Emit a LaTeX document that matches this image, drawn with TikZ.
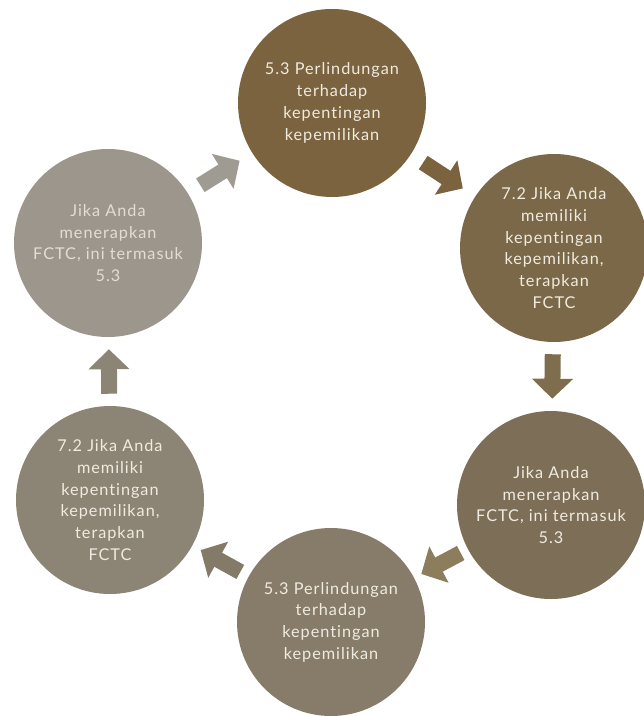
\documentclass[tikz,border=0pt]{standalone}
\usepackage{fontspec}
\setmainfont{Lato}[LetterSpace=6, Ligatures={NoCommon}]
\usetikzlibrary{arrows.meta}
\definecolor{stageA}{RGB}{122,99,62}
\definecolor{stageB}{RGB}{122,104,72}
\definecolor{stageC}{RGB}{125,111,87}
\definecolor{stageD}{RGB}{135,124,105}
\definecolor{stageE}{RGB}{140,132,117}
\definecolor{stageF}{RGB}{156,150,140}
\definecolor{flowA}{RGB}{160,155,146}
\definecolor{flowB}{RGB}{122,99,62}
\definecolor{flowC}{RGB}{126,110,78}
\definecolor{flowD}{RGB}{140,125,92}
\definecolor{flowE}{RGB}{132,122,104}
\definecolor{flowF}{RGB}{140,132,117}
\definecolor{cream}{RGB}{240,235,224}
\tikzset{
    stage/.style={shape=circle, minimum size=141pt, inner sep=0pt, align=center,
        text=cream, font=\fontsize{12.2}{16.3}\selectfont},
    flow/.style={line width=12pt, -{Triangle[length=15pt, width=30pt]},
        shorten <=#1, shorten >=#1}
}

\begin{document}
\begin{tikzpicture}[x=0.75pt, y=-0.75pt]
    \useasboundingbox (0,0) rectangle (643,716);

    \node[stage, fill=stageA] (c1) at (332,103) {5.3 Perlindungan\\terhadap\\kepentingan\\kepemilikan};
    \node[stage, fill=stageB] (c2) at (554,248) {7.2 Jika Anda\\memiliki\\kepentingan\\kepemilikan,\\terapkan\\FCTC};
    \node[stage, fill=stageC] (c3) at (551,505) {Jika Anda\\menerapkan\\FCTC, ini termasuk\\5.3};
    \node[stage, fill=stageD] (c4) at (331,622) {5.3 Perlindungan\\terhadap\\kepentingan\\kepemilikan};
    \node[stage, fill=stageE] (c5) at (110,500) {7.2 Jika Anda\\memiliki\\kepentingan\\kepemilikan,\\terapkan\\FCTC};
    \node[stage, fill=stageF, text=cream!85!stageF] (c6) at (108,243) {Jika Anda\\menerapkan\\FCTC, ini termasuk\\5.3};

    % block arrows round the ring
    \draw[flow=11pt, draw=flowA] (c6) -- (c1);
    \draw[flow=11pt, draw=flowB] (c1) -- (c2);
    \draw[flow=9pt, draw=flowC] (c2) -- (c3);
    \draw[flow=6pt, draw=flowD] (c3) -- (c4);
    \draw[flow=7pt, draw=flowE] (c4) -- (c5);
    \draw[flow=9pt, draw=flowF] (c5) -- (c6);
\end{tikzpicture}
\end{document}
